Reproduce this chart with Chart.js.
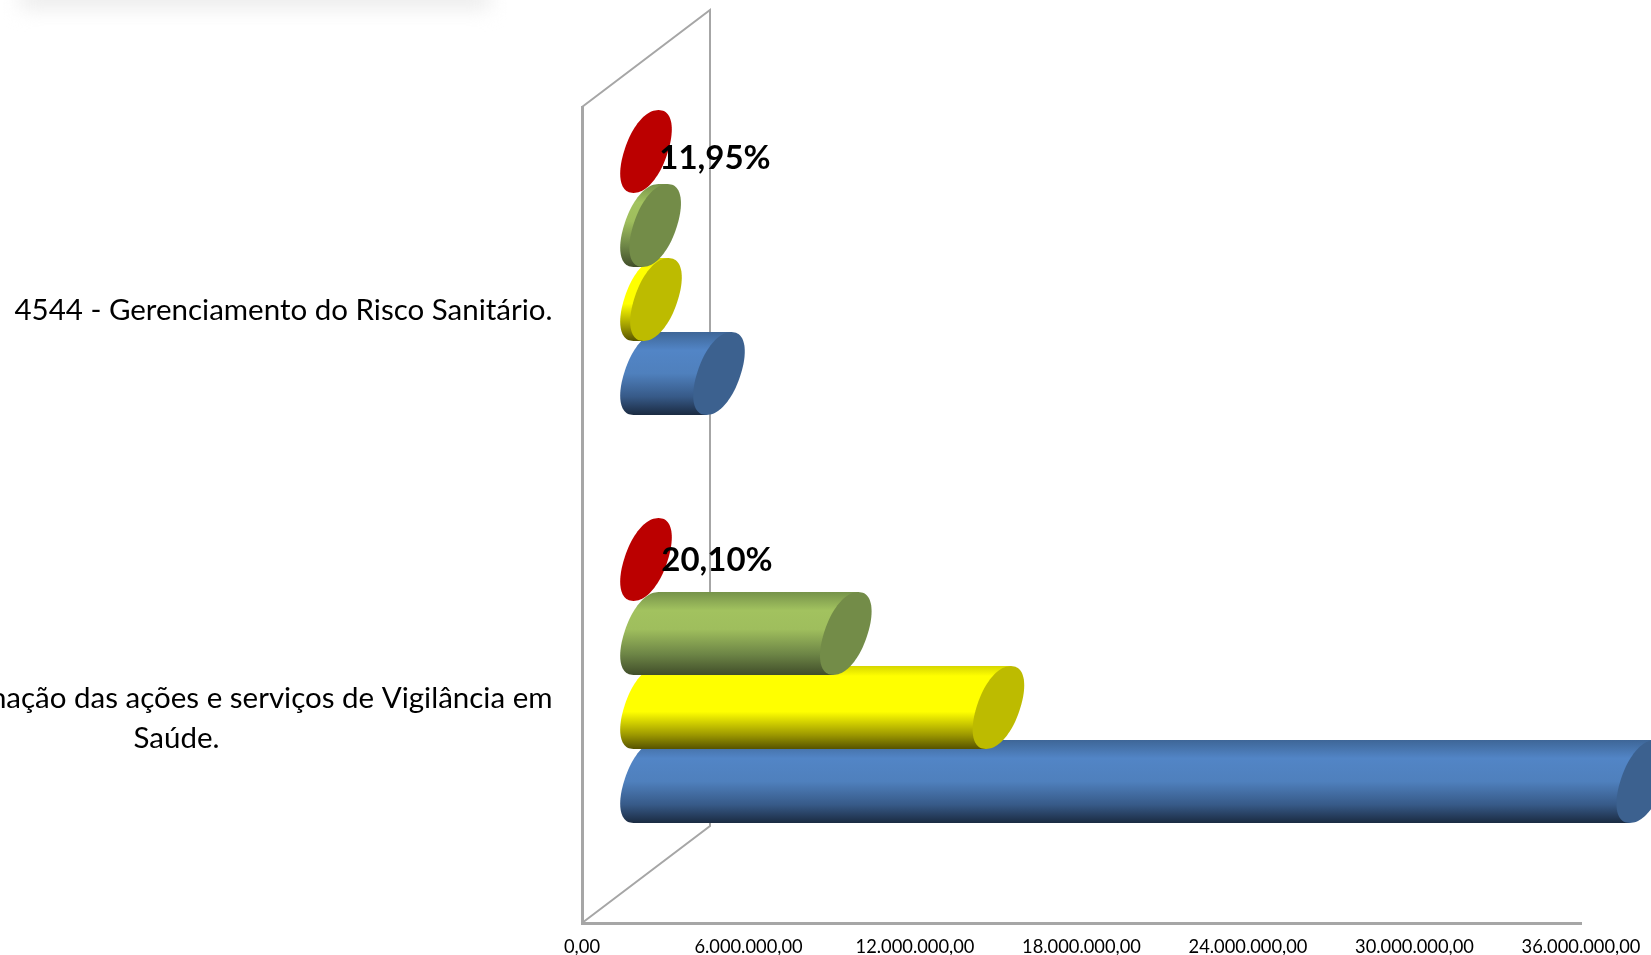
<!DOCTYPE html>
<html><head><meta charset="utf-8">
<style>html,body{margin:0;padding:0;background:#fff}canvas{display:block;filter:blur(0.5px)}</style>
<script src="https://cdn.jsdelivr.net/npm/chart.js@4"></script></head>
<body><div style="width:1651px;height:955px;position:relative;overflow:hidden"><canvas id="c"></canvas></div>
<script>
const categories = [
  ["4544 - Gerenciamento do Risco Sanitário."],
  ["Coordenação das ações e serviços de Vigilância em", "Saúde."]
];
const serieVermelha = [0, 0];
const serieVerde = [330000, 7200000];
const serieAmarela = [360000, 12700000];
const serieAzul = [2630000, 35900000];
const percentLabels = ["11,95%", "20,10%"];
const tickLabels = ["0,00","6.000.000,00","12.000.000,00","18.000.000,00","24.000.000,00","30.000.000,00","36.000.000,00"];

const FONT = 'Lato, "Open Sans", sans-serif';
const DEPTH_X = 64, DEPTH_Y = 48.5, SHEAR = 12.5, CAP_A = 22, CAP_N = 2.15;
const WALL = '#a6a6a6';
const labelBlockWidth = [537, 752];
const percentOffset = [[69, 7], [71, 1]];
const palettes = [
  {cap:'#bb0000', stops:[[0,'#bb0000'],[1,'#bb0000']]},
  {cap:'#738c48', stops:[[0,'#76934a'],[0.22,'#a2c25f'],[0.45,'#9fbe5d'],[0.75,'#6d8546'],[1,'#414e2a']]},
  {cap:'#bdbb00', stops:[[0,'#d6d600'],[0.12,'#ffff00'],[0.55,'#ffff00'],[0.82,'#a09c00'],[1,'#575300']]},
  {cap:'#3c618f', stops:[[0,'#3e6697'],[0.22,'#5285c6'],[0.5,'#4f80bd'],[0.78,'#375a88'],[1,'#1b2b42']]}
];

function capPath(ctx, cx, cy, h){
  const e = 2/CAP_N, pw = v => Math.sign(v)*Math.pow(Math.abs(v), e);
  ctx.beginPath();
  for (let k = 0; k < 96; k++){
    const t = k/96*Math.PI*2;
    const y = h*pw(Math.sin(t));
    const x = CAP_A*pw(Math.cos(t)) - SHEAR*y/h;
    if (k === 0) ctx.moveTo(cx+x, cy+y); else ctx.lineTo(cx+x, cy+y);
  }
  ctx.closePath();
}

const cylinders = {
  id:'cylinders',
  beforeDatasetsDraw(chart){
    const {ctx, chartArea:a} = chart;
    ctx.save();
    ctx.filter = 'blur(10px)';
    ctx.fillStyle = '#eaeaea';
    ctx.fillRect(20, -12, 470, 20);
    ctx.restore();
    ctx.save();
    ctx.strokeStyle = WALL; ctx.lineWidth = 2;
    ctx.beginPath();
    ctx.moveTo(a.left, a.top);
    ctx.lineTo(a.left + DEPTH_X*2, a.top - DEPTH_Y*2);
    ctx.lineTo(a.left + DEPTH_X*2, a.bottom - DEPTH_Y*2);
    ctx.lineTo(a.left, a.bottom);
    ctx.stroke();
    ctx.restore();
  },
  beforeDatasetDraw(chart, args){
    const {ctx} = chart;
    const p = palettes[args.index];
    args.meta.data.forEach(el => {
      const h = el.height/2;
      const y = el.y - DEPTH_Y;
      const x0 = el.base + DEPTH_X, x1 = el.x + DEPTH_X;
      if (x1 > x0 + 0.5){
        const g = ctx.createLinearGradient(0, y-h, 0, y+h);
        p.stops.forEach(s => g.addColorStop(s[0], s[1]));
        ctx.fillStyle = g;
        capPath(ctx, x0, y, h); ctx.fill();
        ctx.beginPath();
        ctx.moveTo(x0+SHEAR, y-h); ctx.lineTo(x1+SHEAR, y-h);
        ctx.lineTo(x1-SHEAR, y+h); ctx.lineTo(x0-SHEAR, y+h);
        ctx.closePath(); ctx.fill();
      }
      ctx.fillStyle = p.cap;
      capPath(ctx, x1, y, h); ctx.fill();
    });
    return false;
  },
  afterDraw(chart){
    const {ctx} = chart;
    const yS = chart.scales.y;
    ctx.save();
    ctx.fillStyle = '#000';
    ctx.textBaseline = 'middle';
    const right = 552.5;
    ctx.font = `29.5px ${FONT}`;
    categories.forEach((lines,i) => {
      const cy = yS.getPixelForValue(i) - 0.5;
      const lh = 40;
      lines.forEach((l,j) => {
        const ly = cy + (j - (lines.length-1)/2)*lh;
        if (j === 0){ ctx.textAlign = 'right'; ctx.fillText(l, right, ly); }
        else { ctx.textAlign = 'center'; ctx.fillText(l, right - labelBlockWidth[i]/2, ly); }
      });
    });
    ctx.textAlign = 'center';
    ctx.font = `bold 33px ${FONT}`;
    chart.getDatasetMeta(0).data.forEach((el,i) => {
      ctx.fillText(percentLabels[i], el.x + DEPTH_X + percentOffset[i][0], el.y - DEPTH_Y + percentOffset[i][1]);
    });
    ctx.restore();
  }
};

new Chart(document.getElementById('c'), {
  type:'bar',
  data:{
    labels: categories,
    datasets:[
      {label:'Série 1', data:serieVermelha, backgroundColor:'#bb0000'},
      {label:'Série 2', data:serieVerde, backgroundColor:'#a2c25f'},
      {label:'Série 3', data:serieAmarela, backgroundColor:'#ffff00'},
      {label:'Série 4', data:serieAzul, backgroundColor:'#5285c6'}
    ]
  },
  options:{
    indexAxis:'y', responsive:true, maintainAspectRatio:false, animation:false,
    categoryPercentage:0.7255, barPercentage:1.12,
    layout:{padding:{top:107,right:70,left:0,bottom:0}},
    plugins:{legend:{display:false},tooltip:{enabled:false}},
    scales:{
      x:{type:'linear',min:0,max:36000000,
        grid:{display:false,drawTicks:false},
        border:{color:WALL,width:3},
        afterFit(s){s.height=32;s.paddingLeft=0;s.paddingRight=0;},
        ticks:{stepSize:6000000,autoSkip:false,maxRotation:0,padding:13,color:'#000',
          font:{family:FONT,size:18.3},
          callback:(v)=>tickLabels[Math.round(v/6000000)]}},
      y:{type:'category',
        grid:{display:false,drawTicks:false},
        border:{color:WALL,width:3},
        afterFit(s){s.width=582;},
        ticks:{display:false}}
    }
  },
  plugins:[cylinders]
});
</script></body></html>
